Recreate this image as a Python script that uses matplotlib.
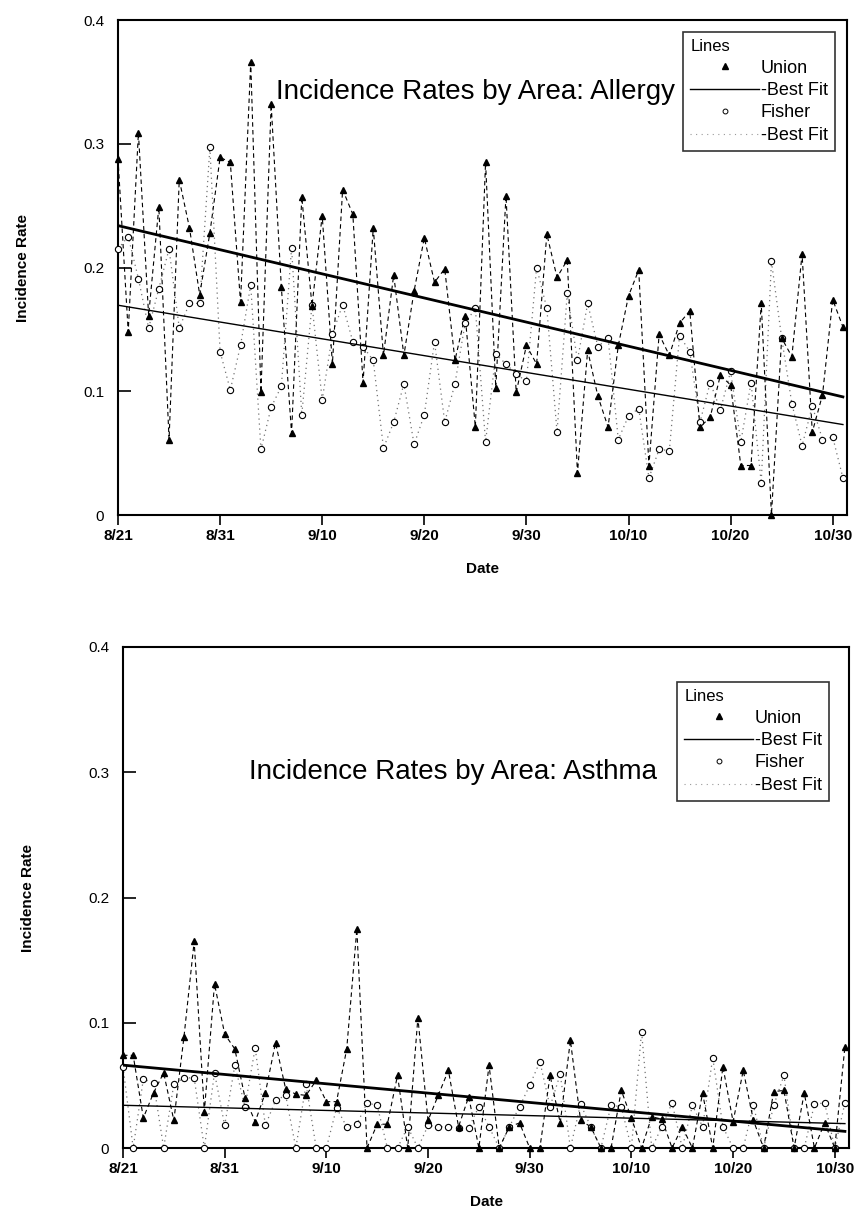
import matplotlib
matplotlib.use("Agg")
import matplotlib.pyplot as plt
from matplotlib.lines import Line2D
import numpy as np

plt.rcParams["font.family"] = ["Liberation Sans", "DejaVu Sans"]

# day index 0 = 8/21, one value per day through 10/31
tick_days = [0, 10, 20, 30, 40, 50, 60, 70]
tick_labels = ["8/21", "8/31", "9/10", "9/20", "9/30", "10/10", "10/20", "10/30"]
y_ticks = [0, 0.1, 0.2, 0.3, 0.4]
y_tick_labels = ["0", "0.1", "0.2", "0.3", "0.4"]

allergy_union = [
    0.288, 0.148, 0.309, 0.161, 0.249, 0.061, 0.271, 0.232, 0.178, 0.228,
    0.289, 0.285, 0.172, 0.366, 0.099, 0.332, 0.184, 0.066, 0.257, 0.169,
    0.242, 0.122, 0.263, 0.243, 0.107, 0.232, 0.129, 0.194, 0.129, 0.181,
    0.224, 0.188, 0.199, 0.125, 0.161, 0.071, 0.285, 0.103, 0.258, 0.099,
    0.137, 0.122, 0.227, 0.192, 0.206, 0.034, 0.133, 0.096, 0.071, 0.137,
    0.177, 0.198, 0.040, 0.146, 0.129, 0.155, 0.165, 0.071, 0.079, 0.113,
    0.105, 0.040, 0.040, 0.171, 0.000, 0.143, 0.128, 0.211, 0.067, 0.097,
    0.174, 0.152,
]
allergy_fisher = [
    0.215, 0.225, 0.191, 0.151, 0.183, 0.215, 0.151, 0.171, 0.171, 0.297,
    0.132, 0.101, 0.137, 0.186, 0.053, 0.087, 0.104, 0.216, 0.081, 0.170,
    0.093, 0.146, 0.170, 0.140, 0.136, 0.125, 0.054, 0.075, 0.106, 0.057,
    0.081, 0.140, 0.075, 0.106, 0.155, 0.167, 0.059, 0.130, 0.122, 0.114,
    0.108, 0.200, 0.167, 0.067, 0.179, 0.125, 0.171, 0.136, 0.143, 0.061,
    0.080, 0.086, 0.030, 0.053, 0.052, 0.145, 0.132, 0.075, 0.107, 0.085,
    0.116, 0.059, 0.107, 0.026, 0.205, 0.143, 0.090, 0.056, 0.088, 0.061,
    0.063, 0.030,
]
asthma_union = [
    0.074, 0.074, 0.024, 0.044, 0.060, 0.022, 0.089, 0.165, 0.029, 0.131,
    0.091, 0.079, 0.040, 0.021, 0.044, 0.084, 0.047, 0.043, 0.042, 0.054,
    0.037, 0.037, 0.079, 0.175, 0.000, 0.019, 0.019, 0.058, 0.000, 0.104,
    0.022, 0.042, 0.062, 0.017, 0.041, 0.000, 0.066, 0.000, 0.017, 0.020,
    0.000, 0.000, 0.058, 0.020, 0.086, 0.022, 0.017, 0.000, 0.000, 0.046,
    0.024, 0.000, 0.025, 0.023, 0.000, 0.017, 0.000, 0.044, 0.000, 0.065,
    0.021, 0.062, 0.022, 0.000, 0.045, 0.046, 0.000, 0.044, 0.000, 0.020,
    0.000, 0.081,
]
asthma_fisher = [
    0.065, 0.000, 0.055, 0.052, 0.000, 0.051, 0.056, 0.056, 0.000, 0.060,
    0.018, 0.066, 0.033, 0.080, 0.018, 0.038, 0.042, 0.000, 0.051, 0.000,
    0.000, 0.032, 0.017, 0.019, 0.036, 0.034, 0.000, 0.000, 0.017, 0.000,
    0.018, 0.017, 0.017, 0.016, 0.016, 0.033, 0.017, 0.000, 0.017, 0.033,
    0.050, 0.069, 0.033, 0.059, 0.000, 0.035, 0.017, 0.000, 0.034, 0.033,
    0.000, 0.093, 0.000, 0.017, 0.036, 0.000, 0.034, 0.017, 0.072, 0.017,
    0.000, 0.000, 0.034, 0.000, 0.034, 0.058, 0.000, 0.000, 0.035, 0.036,
    0.000, 0.036,
]

W, H = 863, 1224


def panel(rect, union, fisher, title, title_xy, legend_anchor):
    ax = plt.gcf().add_axes(rect)
    days = np.arange(len(union))

    ax.plot(days, union, color="black", lw=0.8, dashes=(4, 3), zorder=3, clip_on=False)
    ax.plot(days, union, ls="none", marker="^", ms=5, color="black", zorder=5, clip_on=False)
    ax.plot(days, fisher, color="0.45", lw=0.9, ls=(0, (1, 3)), zorder=2, clip_on=False)
    ax.plot(days, fisher, ls="none", marker="o", ms=4.5, mfc="white", mec="black",
            mew=0.8, zorder=4, clip_on=False)

    # least-squares best fit lines
    for series, lw in ((union, 2.0), (fisher, 1.0)):
        k, b = np.polyfit(days, series, 1)
        ax.plot(days, k * days + b, color="black", lw=lw, zorder=6)

    ax.set_xlim(0, 71.4)
    ax.set_ylim(0, 0.4)
    ax.set_xticks(tick_days)
    ax.set_xticklabels(tick_labels, fontweight="bold", fontsize=11)
    ax.set_yticks(y_ticks)
    ax.set_yticklabels(y_tick_labels, fontsize=11)
    ax.tick_params(axis="y", direction="in", length=9, width=1.2, pad=10)
    ax.tick_params(axis="x", direction="out", length=7, width=1.2, pad=3)
    for sp in ax.spines.values():
        sp.set_linewidth(1.5)
    ax.set_xlabel("Date", fontweight="bold", fontsize=11, labelpad=14)
    ax.set_ylabel("Incidence Rate", fontweight="bold", fontsize=11, labelpad=38)

    ax.text(title_xy[0], title_xy[1], title, transform=ax.transAxes,
            ha="center", va="center", fontsize=20)

    handles = [
        Line2D([], [], ls="none", marker="^", ms=4, color="black"),
        Line2D([], [], color="black", lw=1.0),
        Line2D([], [], ls="none", marker="o", ms=3.5, mfc="white", mec="black", mew=0.7),
        Line2D([], [], color="0.6", lw=0.8, ls=(0, (1, 4))),
    ]
    leg = ax.legend(handles, ["Union", "-Best Fit", "Fisher", "-Best Fit"],
                    title="Lines", loc="upper right", bbox_to_anchor=legend_anchor,
                    fontsize=13, title_fontsize=12, frameon=True, fancybox=False,
                    edgecolor="black", handlelength=3.8, handletextpad=0.1,
                    labelspacing=0.3, borderpad=0.4, borderaxespad=0)
    leg.get_frame().set_linewidth(1.2)
    leg._legend_box.align = "left"
    return ax


fig = plt.figure(figsize=(W / 100, H / 100), dpi=100)

panel([118 / W, 1 - 515 / H, 729 / W, 495 / H], allergy_union, allergy_fisher,
      "Incidence Rates by Area: Allergy", (0.49, 0.855),
      ((835 - 118) / 729, 1 - (32 - 20) / 495))
panel([123 / W, 1 - 1148 / H, 726 / W, 501 / H], asthma_union, asthma_fisher,
      "Incidence Rates by Area: Asthma", (0.455, 0.75),
      ((829 - 123) / 726, 1 - (682 - 647) / 501))

fig.savefig("out.png", dpi=100, facecolor="white")
